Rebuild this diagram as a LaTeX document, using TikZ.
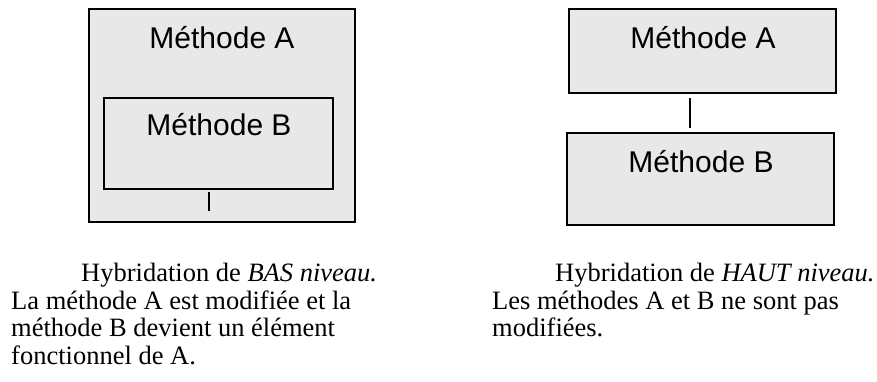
\documentclass[tikz,border=0pt]{standalone}
\usepackage{fontspec}
\setmainfont{Liberation Serif}
\newfontfamily\labelsans{Liberation Sans}
\definecolor{boxgray}{HTML}{E8E8E8}
\begin{document}
\begin{tikzpicture}[x=1pt,y=-1pt,
  methodbox/.style={rectangle, draw=black, line width=1.4pt, fill=boxgray,
                    inner sep=0pt, outer sep=0pt},
  boxlabel/.style={anchor=base, inner sep=0pt, font=\labelsans\fontsize{30}{36}\selectfont},
  caption/.style={anchor=base west, inner sep=0pt, font=\fontsize{26.5}{28}\selectfont},
  link/.style={draw=black, line width=1.4pt}]
\useasboundingbox (0,0) rectangle (877,381);

% low-level hybridisation: B nested inside A
\node[methodbox, minimum width=266pt, minimum height=213pt] (outerA) at (222,115.5) {};
\node[methodbox, minimum width=229pt, minimum height=91pt] (innerB) at (218.5,143.5) {};
\node[boxlabel] (outerAlabel) at (222,48) {Méthode A};
\node[boxlabel] (innerBlabel) at (219,135) {Méthode B};
\coordinate (innerEnd) at (209,211);
\draw[link] ([xshift=-9.5pt,yshift=-3pt]innerB.south) -- (innerEnd);

% high-level hybridisation: A above B, linked
\node[methodbox, minimum width=267pt, minimum height=84pt] (topA) at (702.5,51) {};
\node[methodbox, minimum width=267pt, minimum height=92pt] (botB) at (700.5,179) {};
\node[boxlabel] (topAlabel) at (703,48) {Méthode A};
\node[boxlabel] (botBlabel) at (701,172) {Méthode B};
\draw[link] ([xshift=-12.5pt,yshift=-5pt]topA.south) -- ([xshift=-10.5pt,yshift=5pt]botB.north);

% captions
\node[caption] (lowA) at (81,281) {Hybridation de \textit{BAS niveau.}};
\node[caption] (lowB) at (11,309) {La méthode A est modifiée et la};
\node[caption] (lowC) at (11,336.5) {méthode B devient un élément};
\node[caption] (lowD) at (11,364) {fonctionnel de A.};

\node[caption] (highA) at (555,281) {Hybridation de \textit{HAUT niveau.}};
\node[caption] (highB) at (492,309) {Les méthodes A et B ne sont pas};
\node[caption] (highC) at (492,336.5) {modifiées.};
\end{tikzpicture}
\end{document}
